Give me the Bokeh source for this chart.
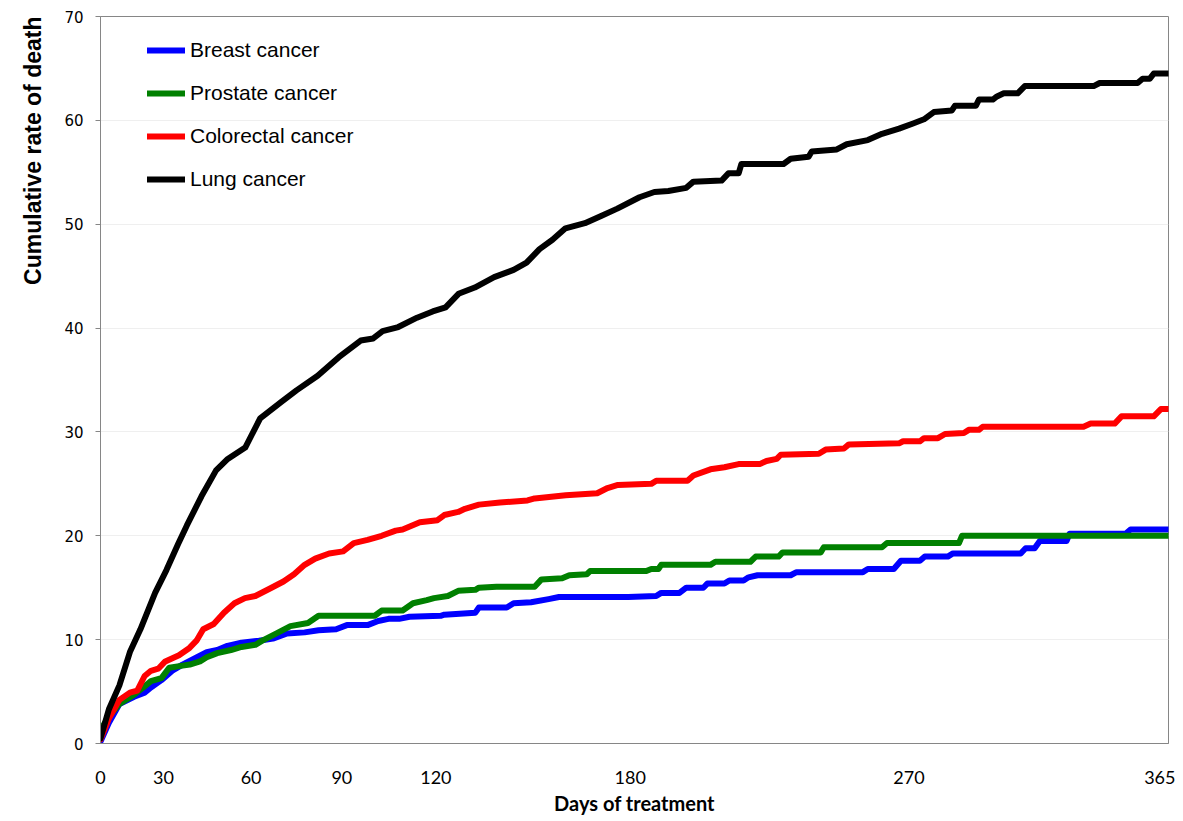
import numpy as np
from bokeh.plotting import figure
from bokeh.models import FixedTicker, Legend, LegendItem, Title, Range1d
from bokeh.embed import file_html
from bokeh.resources import INLINE

# ---- axis definition (category-like day axis of the original chart) ----
TICK_DAYS = [0, 30, 60, 90, 120, 180, 270, 365]
TICK_LABELS = ["0", "30", "60", "90", "120", "180", "270", "365"]
AXIS_POS = [0, 59, 141, 226, 314, 496, 757, 1000]      # position of each day value along the axis (per mille)
LABEL_POS = [0, 59, 141, 226, 314, 496, 757, 993]      # where each tick label is printed

# ---- data ----
breast_days = [0, 4, 9, 16, 21, 24, 29, 33, 36.5, 41.3, 44.8, 48.4, 51.9, 56.7, 62.6, 67.2, 71.9, 77.7, 82.3, 88.1,
               91.6, 98.2, 101.6, 104.9, 108.3, 111.6, 121.5, 122.6, 132.2, 133.3, 141.9, 144.0, 149.4, 154.8, 158.0,
               179.4, 188.4, 190.0, 195.9, 198.1, 203.6, 204.9, 210.4, 212.0, 216.6, 218.2, 221.1, 231.8, 233.7, 255.1,
               256.7, 265.1, 267.4, 274.0, 275.8, 284.2, 286.1, 310.9, 312.7, 316.0, 317.9, 327.7, 328.8, 349.3, 351.1, 365]
breast_rate = [0.2, 2.0, 3.8, 4.5, 4.9, 5.4, 6.1, 7.0, 7.6, 8.3, 8.8, 9.0, 9.4, 9.7, 9.9, 10.1, 10.6, 10.7, 10.9, 11.0,
               11.4, 11.4, 11.8, 12.0, 12.0, 12.2, 12.3, 12.4, 12.6, 13.1, 13.1, 13.5, 13.6, 13.9, 14.1, 14.1, 14.2, 14.5,
               14.5, 15.0, 15.0, 15.4, 15.4, 15.7, 15.7, 16.0, 16.2, 16.2, 16.5, 16.5, 16.8, 16.8, 17.6, 17.6, 18.0, 18.0,
               18.3, 18.3, 18.8, 18.8, 19.5, 19.5, 20.2, 20.2, 20.6, 20.6]

prostate_days = [0, 4, 9, 16, 21, 24, 29, 32, 36.5, 39, 42.5, 44.8, 48.4, 53.1, 56.7, 61.4, 63.7, 68.4, 73.0, 78.8,
                 82.3, 100.5, 102.7, 109.4, 112.7, 117.1, 119.4, 123.7, 126.9, 132.2, 133.3, 138.7, 150.5, 152.6, 159.0,
                 161.2, 166.6, 167.6, 185.2, 186.8, 189.1, 190.0, 205.9, 207.5, 218.8, 220.5, 227.9, 229.2, 241.5, 242.5,
                 261.3, 262.9, 288.3, 289.4, 365]
prostate_rate = [1.3, 2.6, 3.8, 4.7, 5.5, 6.0, 6.3, 7.3, 7.5, 7.6, 7.9, 8.3, 8.7, 9.0, 9.3, 9.5, 9.9, 10.6, 11.3, 11.6,
                 12.3, 12.3, 12.8, 12.8, 13.5, 13.8, 14.0, 14.2, 14.7, 14.8, 15.0, 15.1, 15.1, 15.8, 15.9, 16.2, 16.3, 16.6,
                 16.6, 16.8, 16.8, 17.2, 17.2, 17.5, 17.5, 18.0, 18.0, 18.4, 18.4, 18.9, 18.9, 19.3, 19.3, 20.0, 20.0]

colorectal_days = [0, 4, 9, 14, 17.5, 21, 24, 27.5, 30.6, 35.3, 38.9, 41.3, 43.6, 47.2, 50.7, 54.3, 57.9, 61.4, 66.1,
                   70.7, 74.2, 77.7, 81.2, 85.8, 90.4, 93.8, 98.2, 102.7, 107.2, 109.4, 114.9, 120.5, 122.6, 126.9, 129.0,
                   133.3, 139.8, 148.3, 150.5, 160.1, 169.8, 173.0, 176.2, 186.8, 188.4, 198.5, 200.4, 205.9, 210.4, 215.0,
                   221.8, 224.0, 227.3, 228.6, 240.9, 243.1, 249.0, 250.6, 266.8, 268.1, 274.0, 275.5, 280.6, 283.2, 290.1,
                   291.9, 295.6, 297.0, 333.9, 336.5, 345.3, 347.8, 359.6, 362.2, 365]
colorectal_rate = [0.4, 2.4, 4.2, 4.9, 5.1, 6.5, 7.0, 7.2, 7.9, 8.5, 9.2, 9.9, 11.0, 11.5, 12.6, 13.5, 14.0, 14.2, 14.9,
                   15.6, 16.3, 17.2, 17.8, 18.3, 18.5, 19.3, 19.6, 20.0, 20.5, 20.6, 21.3, 21.5, 22.0, 22.3, 22.6, 23.0,
                   23.2, 23.4, 23.6, 23.9, 24.1, 24.6, 24.9, 25.0, 25.3, 25.3, 25.8, 26.4, 26.6, 26.9, 26.9, 27.2, 27.4,
                   27.8, 27.9, 28.3, 28.4, 28.8, 28.9, 29.1, 29.1, 29.4, 29.4, 29.8, 29.9, 30.2, 30.2, 30.5, 30.5, 30.8,
                   30.8, 31.5, 31.5, 32.2, 32.2]

lung_days = [0, 4, 9, 14, 19, 26, 31, 35, 38, 43, 48, 52, 58, 63, 70, 75, 82, 89, 96, 100, 103, 108, 114, 119, 123,
             127, 132, 138, 144, 148, 152, 156, 160, 166, 171, 176, 183, 187.8, 192.3, 198.1, 200.4, 209.5, 211.7,
             215.0, 215.9, 229.5, 231.8, 237.6, 238.6, 246.7, 249.9, 256.7, 261.3, 266.8, 271.5, 275.5, 279.1, 285.7,
             286.8, 294.5, 295.6, 300.7, 302.2, 304.7, 309.8, 312.4, 337.6, 339.8, 353.7, 355.5, 358.1, 359.6, 365]
lung_rate = [0.5, 3.3, 5.6, 8.8, 11.0, 14.5, 16.7, 19.2, 21.0, 23.8, 26.3, 27.4, 28.5, 31.3, 32.9, 34.0, 35.4, 37.2,
             38.8, 39.0, 39.7, 40.1, 41.0, 41.6, 42.0, 43.3, 43.9, 44.9, 45.6, 46.3, 47.6, 48.5, 49.6, 50.1, 50.8, 51.5,
             52.6, 53.1, 53.2, 53.5, 54.1, 54.2, 54.9, 54.9, 55.8, 55.8, 56.3, 56.5, 57.0, 57.2, 57.7, 58.1, 58.7, 59.2,
             59.7, 60.1, 60.8, 60.95, 61.4, 61.4, 62.0, 62.0, 62.3, 62.6, 62.6, 63.3, 63.3, 63.6, 63.6, 64.0, 64.0,
             64.5, 64.5]

SERIES = [
    ("Breast cancer", breast_days, breast_rate, "#0000FF"),
    ("Prostate cancer", prostate_days, prostate_rate, "#008000"),
    ("Colorectal cancer", colorectal_days, colorectal_rate, "#FF0000"),
    ("Lung cancer", lung_days, lung_rate, "#000000"),
]
Y_TITLE = "Cumulative rate of death"


def axis_x(days):
    return np.interp(np.asarray(days, dtype=float), TICK_DAYS, AXIS_POS)


p = figure(width=1175, height=817, output_backend="svg", toolbar_location=None,
           x_range=Range1d(0, 1000), y_range=Range1d(0, 70),
           min_border_left=100, min_border_right=7, min_border_top=16, min_border_bottom=74)

p.background_fill_color = "white"
p.border_fill_color = "white"
p.outline_line_color = "#868686"
p.outline_line_width = 1

items = []
for name, d, r, c in SERIES:
    rr = p.line(axis_x(d), r, line_width=6, line_color=c, line_join="round", line_cap="round")
    items.append(LegendItem(label=name, renderers=[rr]))

legend = Legend(items=items, location=(47, 552), orientation="vertical")
legend.border_line_color = None
legend.background_fill_alpha = 0
legend.padding = 0
legend.margin = 0
legend.spacing = 19
legend.glyph_width = 38
legend.glyph_height = 24
legend.label_height = 24
legend.label_standoff = 5
legend.label_text_font = "Liberation Sans"
legend.label_text_font_size = "21px"
legend.label_text_color = "#000000"
p.add_layout(legend)

# x axis
xa = p.xaxis[0]
xa.ticker = FixedTicker(ticks=LABEL_POS)
xa.major_label_overrides = {pos: lab for pos, lab in zip(LABEL_POS, TICK_LABELS)}
xa.axis_line_color = "#868686"
xa.major_tick_line_color = None
xa.minor_tick_line_color = None
xa.major_tick_out = 0
xa.major_tick_in = 0
xa.major_label_standoff = 27
xa.major_label_text_font = "Lato"
xa.major_label_text_font_size = "18px"
xa.major_label_text_color = "#000000"
xa.axis_label = "Days of treatment"
xa.axis_label_text_font = "Lato"
xa.axis_label_text_font_style = "bold"
xa.axis_label_text_font_size = "20px"
xa.axis_label_text_color = "#000000"
xa.axis_label_standoff = 4

# y axis
ya = p.yaxis[0]
ya.ticker = FixedTicker(ticks=[0, 10, 20, 30, 40, 50, 60, 70])
ya.axis_line_color = "#868686"
ya.major_tick_line_color = "#868686"
ya.minor_tick_line_color = None
ya.major_tick_out = 5
ya.major_tick_in = 0
ya.major_label_standoff = 12
ya.major_label_text_font = "DejaVu Sans"
ya.major_label_text_font_size = "15px"
ya.major_label_text_color = "#000000"

p.xgrid.grid_line_color = None
p.ygrid.grid_line_color = "#efefef"
p.ygrid.grid_line_width = 1

# y-axis title near the top of the axis, as in the original
ytitle = Title(text=Y_TITLE, align="right", offset=0, standoff=32,
               text_font="Liberation Sans", text_font_size="23px", text_font_style="bold",
               text_color="#000000")
p.add_layout(ytitle, "left")

open("out.html", "w").write(file_html(p, INLINE))
